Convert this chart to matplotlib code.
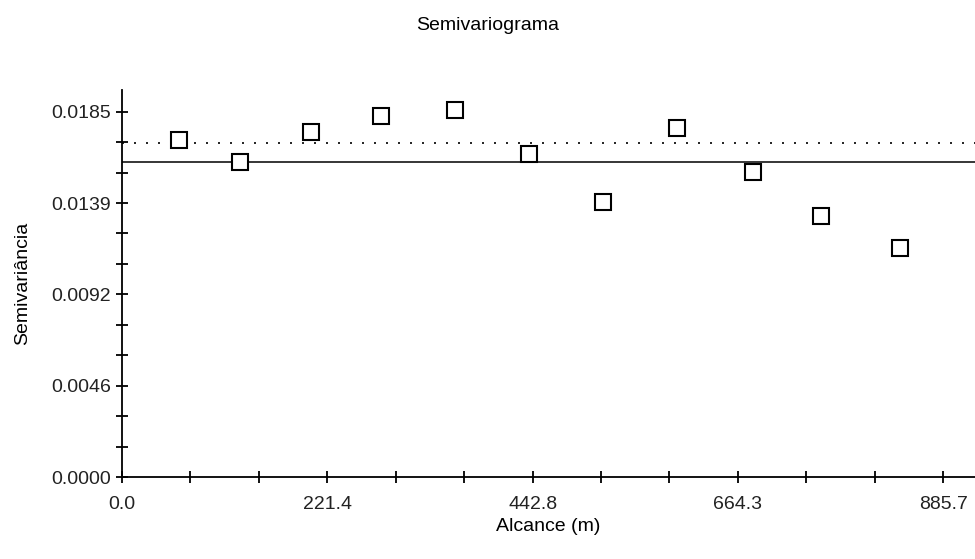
import matplotlib
matplotlib.use('Agg')
import matplotlib.pyplot as plt
import numpy as np
from matplotlib.ticker import MultipleLocator

plt.rcParams['font.family'] = ['Liberation Sans', 'DejaVu Sans']

# lag distances (m) and experimental semivariance
lag = [61.5, 127.3, 203.8, 279.3, 359.1, 438.9, 518.7, 598.5, 680.5, 753.8, 839.0]
gamma = [0.01707, 0.01595, 0.01747, 0.01828, 0.01859, 0.01636,
         0.01392, 0.01768, 0.01544, 0.01321, 0.01158]

model_sill = 0.01597     # solid line
sample_var = 0.01690     # dotted line

xticks = [0.0, 221.425, 442.85, 664.275, 885.7]
xlabels = ['0.0', '221.4', '442.8', '664.3', '885.7']
yticks = [0.0, 0.004625, 0.00925, 0.013875, 0.0185]
ylabels = ['0.0000', '0.0046', '0.0092', '0.0139', '0.0185']

fs = 14

fig = plt.figure(figsize=(9.75, 5.59), dpi=100)
ax = fig.add_axes([122 / 975, 1 - 477 / 559, 1 - 122 / 975, (477 - 90) / 559])

ax.axhline(model_sill, color='black', lw=1.1)
ax.axhline(sample_var, color='black', lw=1.2, dashes=(1.2, 6))
ax.plot(lag, gamma, 's', ms=12, mfc='white', mec='black', mew=1.5, ls='none')

ax.set_xlim(0, 920)
ax.set_ylim(0, 0.0196)
ax.set_xticks(xticks)
ax.set_xticklabels(xlabels)
ax.set_yticks(yticks)
ax.set_yticklabels(ylabels)
ax.xaxis.set_minor_locator(MultipleLocator(885.7 / 12))
ax.yaxis.set_minor_locator(MultipleLocator(0.0185 / 12))

for s in ['top', 'right']:
    ax.spines[s].set_visible(False)
for s in ['left', 'bottom']:
    ax.spines[s].set_linewidth(1.3)

ax.tick_params(which='both', direction='inout', length=8, width=1.3, colors='black')
ax.tick_params(axis='x', which='major', pad=10, labelsize=fs, labelcolor='#222222')
ax.tick_params(axis='y', which='major', pad=4, labelsize=fs, labelcolor='#222222')

ax.set_xlabel('Alcance (m)', fontsize=fs, labelpad=3)
ax.set_ylabel('Semivariância', fontsize=fs, labelpad=14)
fig.text(0.5, 1 - 26 / 559, 'Semivariograma', ha='center', va='center', fontsize=fs)

fig.savefig('out.png', dpi=100)
